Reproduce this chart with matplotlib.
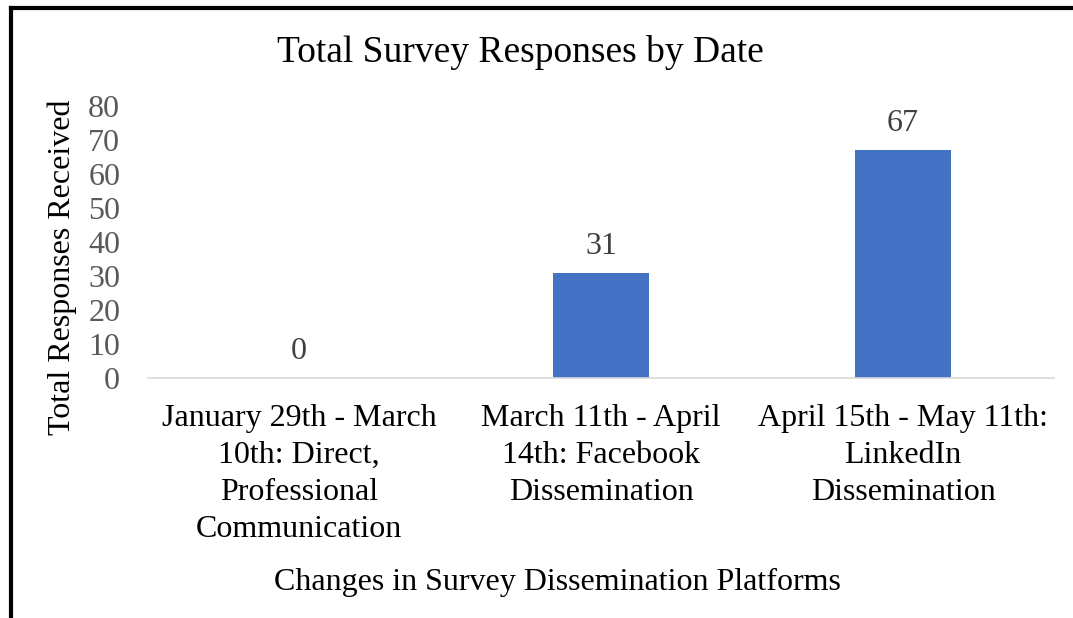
import matplotlib
matplotlib.use("Agg")
import matplotlib.pyplot as plt
from matplotlib.lines import Line2D

categories = [
    "January 29th - March\n10th: Direct,\nProfessional\nCommunication",
    "March 11th - April\n14th: Facebook\nDissemination",
    "April 15th - May 11th:\nLinkedIn\nDissemination",
]
values = [0, 31, 67]
yticks = [0, 10, 20, 30, 40, 50, 60, 70, 80]

plt.rcParams['font.family'] = ['Liberation Serif', 'DejaVu Serif']

fig = plt.figure(figsize=(10.73, 6.18), dpi=100)
ax = fig.add_axes([148/1073, 1 - 378/618, (1054-148)/1073, (378-106)/618])

x = list(range(len(categories)))
bars = ax.bar(x, values, width=0.315, color='#4472c4', zorder=2)
ax.set_xlim(-0.5, len(categories) - 0.5)
ax.set_ylim(0, 80)
ax.set_yticks(yticks)
ax.set_yticklabels([str(t) for t in yticks], fontsize=23, color='#595959')
ax.set_xticks(x)
ax.set_xticklabels(categories, fontsize=23, color='black', linespacing=1.36)
ax.tick_params(axis='y', length=0, pad=20)
ax.tick_params(axis='x', length=0, pad=19)

for s in ['top', 'right', 'left']:
    ax.spines[s].set_visible(False)
ax.spines['bottom'].set_color('#d9d9d9')
ax.spines['bottom'].set_linewidth(1.2)

for xi, v in zip(x, values):
    ax.annotate(str(v), (xi, v), xytext=(0, 19), textcoords='offset points',
                ha='center', va='center', fontsize=23, color='#404040')

fig.text(62/1073, 1 - 267/618, "Total Responses Received", rotation=90,
         ha='center', va='center', fontsize=23, color='black')
fig.text(557/1073, 1 - 582/618, "Changes in Survey Dissemination Platforms",
         ha='center', va='center', fontsize=23, color='black')
fig.text(520/1073, 1 - 52/618, "Total Survey Responses by Date",
         ha='center', va='center', fontsize=27, color='black')

# outer frame (top and left)
fig.add_artist(Line2D([11/1073, 1.0], [1 - 8/618, 1 - 8/618], color='black', lw=3,
                      transform=fig.transFigure))
fig.add_artist(Line2D([11/1073, 11/1073], [0, 1 - 8/618], color='black', lw=3,
                      transform=fig.transFigure))

fig.savefig("out.png", dpi=100, facecolor='white')
